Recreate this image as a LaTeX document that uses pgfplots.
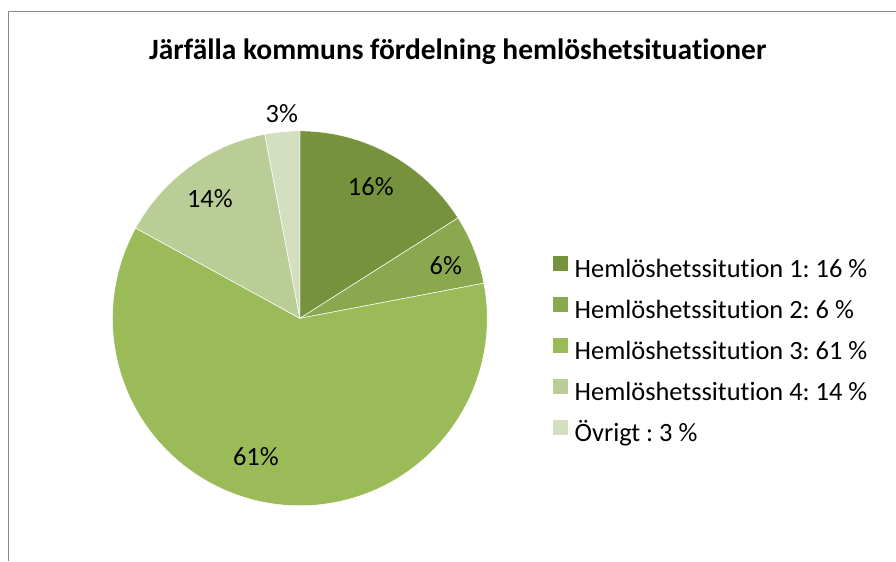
\documentclass[border=0pt]{standalone}
\usepackage{pgfplots}
\pgfplotsset{compat=1.18}
\usepackage{pgfplotstable}
\usepackage{fontspec}
\setmainfont{Carlito}[Ligatures=NoCommon]
\frenchspacing
\definecolor{pie0}{RGB}{118,146,60}
\definecolor{pie1}{RGB}{138,169,79}
\definecolor{pie2}{RGB}{155,187,89}
\definecolor{pie3}{RGB}{187,205,151}
\definecolor{pie4}{RGB}{211,223,190}
\definecolor{frame}{RGB}{136,136,136}
\pgfplotstableread{
value labx laby
16 371 187
6 446 266
61 256 457
14 210 199
3 282 114
}\piedata
\begin{document}
\begin{tikzpicture}
\begin{axis}[
  width=896bp, height=561bp, scale only axis,
  xmin=0, xmax=896, ymin=0, ymax=561, y dir=reverse,
  hide axis, clip=false,
  legend cell align=left,
  legend image code/.code={\fill[#1, draw=none] (0bp,0bp) rectangle (15bp,15bp);},
  legend style={at={(axis cs:553,256)}, anchor=north west, draw=none, fill=none,
    inner sep=0pt, outer sep=0pt,
    font=\fontsize{26.5}{30}\selectfont, row sep=13.5bp, column sep=7bp,
    nodes={inner sep=0pt, text height=19bp, text depth=6bp}},
]
\path (axis cs:0,0) rectangle (axis cs:896,561);
\draw[frame, line width=1bp] (axis cs:9,561) -- (axis cs:9,11.5) -- (axis cs:896,11.5);
\def\cumul{0}
\pgfplotsforeachungrouped \i in {0,...,4}{%
  \pgfplotstablegetelem{\i}{value}\of\piedata \let\v\pgfplotsretval
  \pgfplotstablegetelem{\i}{labx}\of\piedata \let\lx\pgfplotsretval
  \pgfplotstablegetelem{\i}{laby}\of\piedata \let\ly\pgfplotsretval
  \pgfmathsetmacro\a{90-3.6*\cumul}%
  \pgfmathsetmacro\b{90-3.6*(\cumul+\v)}%
  \edef\temp{\noexpand\fill[pie\i, draw=white, line width=0.5bp] (axis cs:300,318.5) -- ++(\a:187.5bp) arc[start angle=\a, end angle=\b, radius=187.5bp] -- cycle;
    \noexpand\node[font=\noexpand\fontsize{26.5}{30}\noexpand\selectfont, inner sep=0pt] at (axis cs:\lx,\ly) {\v\noexpand\%};}%
  \temp
  \pgfmathsetmacro\cumul{\cumul+\v}%
}
\node[font=\bfseries\fontsize{29.6}{34}\selectfont, anchor=base] at (axis cs:458,60) {Järfälla kommuns fördelning hemlöshetsituationer};
\addlegendimage{fill=pie0}
\addlegendentry{Hemlöshetssitution 1: 16 \%}
\addlegendimage{fill=pie1}
\addlegendentry{Hemlöshetssitution 2: 6 \%}
\addlegendimage{fill=pie2}
\addlegendentry{Hemlöshetssitution 3: 61 \%}
\addlegendimage{fill=pie3}
\addlegendentry{Hemlöshetssitution 4: 14 \%}
\addlegendimage{fill=pie4}
\addlegendentry{Övrigt : 3 \%}
\end{axis}
\end{tikzpicture}
\end{document}
